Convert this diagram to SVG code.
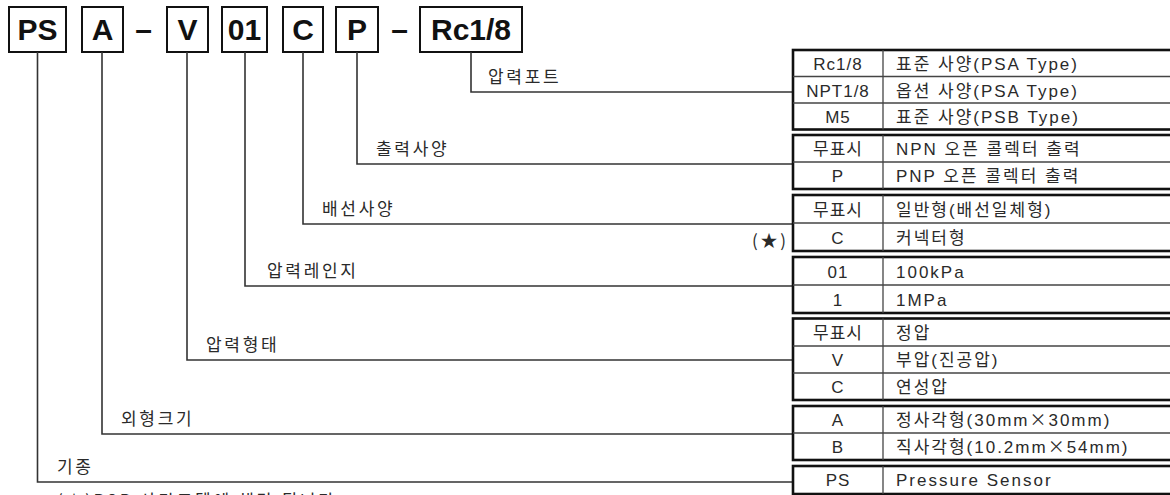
<svg xmlns="http://www.w3.org/2000/svg" width="1170" height="495" viewBox="0 0 1170 495">
<style>
.hb{fill:#fff;stroke:#111;stroke-width:2}
.ht{font-family:"Liberation Sans",Arial,sans-serif;font-weight:bold;font-size:30px;text-anchor:middle;fill:#111}
.c{fill:none;stroke:#333;stroke-width:1.6}
.lbl{font-family:"Noto Sans CJK KR",sans-serif;font-size:17px;fill:#2a2a2a;letter-spacing:2.7px}
.to{fill:#fff;stroke:#111;stroke-width:2.6}
.tl{stroke:#444;stroke-width:1.3}
.tk{font-family:"Liberation Sans","Noto Sans CJK KR",sans-serif;font-size:17px;fill:#2a2a2a;text-anchor:middle;letter-spacing:1px}
.tv{font-family:"Liberation Sans","Noto Sans CJK KR",sans-serif;font-size:17px;fill:#2a2a2a;letter-spacing:2px}
.x{font-family:"Noto Sans CJK KR",sans-serif}
</style>
<rect width="1170" height="495" fill="#fff"/>

<g id="header">
  <rect class="hb" x="9" y="7" width="57" height="45"/><text class="ht" x="37.5" y="40">PS</text>
  <rect class="hb" x="82" y="7" width="41" height="45"/><text class="ht" x="102.5" y="40">A</text>
  <text class="ht" x="143.5" y="40">–</text>
  <rect class="hb" x="167" y="7" width="41" height="45"/><text class="ht" x="187.5" y="40">V</text>
  <rect class="hb" x="222" y="7" width="45" height="45"/><text class="ht" x="244.5" y="40">01</text>
  <rect class="hb" x="283" y="7" width="40" height="45"/><text class="ht" x="303" y="40">C</text>
  <rect class="hb" x="336" y="7" width="42" height="45"/><text class="ht" x="357" y="40">P</text>
  <text class="ht" x="399.5" y="40">–</text>
  <rect class="hb" x="420" y="7" width="102" height="45"/><text class="ht" x="471" y="40">Rc1/8</text>
</g>

<g id="connectors">
  <polyline class="c" points="471,52 471,92 793,92"/>
  <polyline class="c" points="357,52 357,164 793,164"/>
  <polyline class="c" points="303,52 303,224 793,224"/>
  <polyline class="c" points="245,52 245,286 793,286"/>
  <polyline class="c" points="187,52 187,360 793,360"/>
  <polyline class="c" points="102,52 102,434 793,434"/>
  <polyline class="c" points="37.5,52 37.5,482 793,482"/>
</g>

<g id="labels">
  <text class="lbl" x="488" y="83">압력포트</text>
  <text class="lbl" x="376" y="155">출력사양</text>
  <text class="lbl" x="322" y="215">배선사양</text>
  <text class="lbl" x="267" y="277">압력레인지</text>
  <text class="lbl" x="206" y="351">압력형태</text>
  <text class="lbl" x="121" y="425">외형크기</text>
  <text class="lbl" x="57" y="473">기종</text>
  <text class="lbl" x="752" y="247" letter-spacing="0">(★)</text>
  <text class="lbl" x="57" y="507" letter-spacing="2">(★)PSB 사각모델에 해당 됩니다</text>
</g>

<g id="table-port">
  <rect class="to" x="793" y="50" width="400" height="79.5"/>
  <line class="tl" x1="793" y1="76.5" x2="1170" y2="76.5"/>
  <line class="tl" x1="793" y1="103" x2="1170" y2="103"/>
  <line class="tl" x1="883" y1="50" x2="883" y2="129.5"/>
  <text class="tk" x="838" y="70">Rc1/8</text><text class="tv" x="896" y="70">표준 사양(PSA Type)</text>
  <text class="tk" x="838" y="96.5">NPT1/8</text><text class="tv" x="896" y="96.5">옵션 사양(PSA Type)</text>
  <text class="tk" x="838" y="123">M5</text><text class="tv" x="896" y="123">표준 사양(PSB Type)</text>
</g>

<g id="table-output">
  <rect class="to" x="793" y="135" width="400" height="54"/>
  <line class="tl" x1="793" y1="162" x2="1170" y2="162"/>
  <line class="tl" x1="883" y1="135" x2="883" y2="189"/>
  <text class="tk" x="838" y="155">무표시</text><text class="tv" x="896" y="155">NPN 오픈 콜렉터 출력</text>
  <text class="tk" x="838" y="182">P</text><text class="tv" x="896" y="182">PNP 오픈 콜렉터 출력</text>
</g>

<g id="table-wiring">
  <rect class="to" x="793" y="195" width="400" height="56"/>
  <line class="tl" x1="793" y1="223" x2="1170" y2="223"/>
  <line class="tl" x1="883" y1="195" x2="883" y2="251"/>
  <text class="tk" x="838" y="216">무표시</text><text class="tv" x="896" y="216" letter-spacing="2.6">일반형(배선일체형)</text>
  <text class="tk" x="838" y="244">C</text><text class="tv" x="896" y="244" letter-spacing="2.6">커넥터형</text>
</g>

<g id="table-range">
  <rect class="to" x="793" y="257" width="400" height="56"/>
  <line class="tl" x1="793" y1="285" x2="1170" y2="285"/>
  <line class="tl" x1="883" y1="257" x2="883" y2="313"/>
  <text class="tk" x="838" y="278">01</text><text class="tv" x="896" y="278" letter-spacing="1.6">100kPa</text>
  <text class="tk" x="838" y="306">1</text><text class="tv" x="896" y="306" letter-spacing="1.6">1MPa</text>
</g>

<g id="table-type">
  <rect class="to" x="793" y="318.5" width="400" height="81.5"/>
  <line class="tl" x1="793" y1="346" x2="1170" y2="346"/>
  <line class="tl" x1="793" y1="373" x2="1170" y2="373"/>
  <line class="tl" x1="883" y1="318.5" x2="883" y2="400"/>
  <text class="tk" x="838" y="339">무표시</text><text class="tv" x="896" y="339" letter-spacing="2.6">정압</text>
  <text class="tk" x="838" y="366">V</text><text class="tv" x="896" y="366" letter-spacing="2.6">부압(진공압)</text>
  <text class="tk" x="838" y="393">C</text><text class="tv" x="896" y="393" letter-spacing="2.6">연성압</text>
</g>

<g id="table-size">
  <rect class="to" x="793" y="406" width="400" height="54"/>
  <line class="tl" x1="793" y1="433" x2="1170" y2="433"/>
  <line class="tl" x1="883" y1="406" x2="883" y2="460"/>
  <text class="tk" x="838" y="426">A</text><text class="tv" x="896" y="426" letter-spacing="2.4">정사각형(30mm<tspan class="x">×</tspan>30mm)</text>
  <text class="tk" x="838" y="453">B</text><text class="tv" x="896" y="453" letter-spacing="2.3">직사각형(10.2mm<tspan class="x">×</tspan>54mm)</text>
</g>

<g id="table-model">
  <rect class="to" x="793" y="466" width="400" height="28"/>
  <line class="tl" x1="883" y1="466" x2="883" y2="494"/>
  <text class="tk" x="838" y="486">PS</text><text class="tv" x="896" y="486" letter-spacing="0.3">Pressure Sensor</text>
</g>
</svg>
